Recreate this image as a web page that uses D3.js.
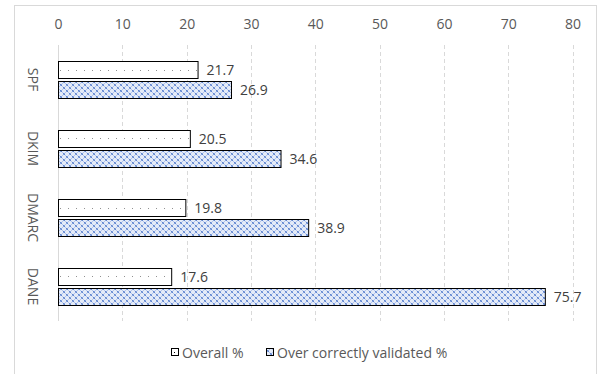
<!DOCTYPE html>
<html>
<head>
<meta charset="utf-8">
<script src="https://cdn.jsdelivr.net/npm/d3@7"></script>
<style>
  html, body { margin: 0; padding: 0; background: #fff; }
  svg { display: block; font-family: "Open Sans", "Noto Sans", sans-serif; }
</style>
</head>
<body>
<svg id="chart" width="598" height="374"></svg>
<script>
// Protocols, top to bottom
const categories = ["SPF", "DKIM", "DMARC", "DANE"];
const seriesNames = ["Overall %", "Over correctly validated %"];
const overall = [21.7, 20.5, 19.8, 17.6];
const overCorrect = [26.9, 34.6, 38.9, 75.7];
const xTicks = [0, 10, 20, 30, 40, 50, 60, 70, 80];

const svg = d3.select("#chart");
const plot = { left: 58, right: 572.5, top: 45, bottom: 321 };
const FS = 14;

const defs = svg.append("defs");

// dotted fill for the "Overall %" bars: one row of sparse dots
const dots = defs.append("pattern")
  .attr("id", "dots").attr("patternUnits", "userSpaceOnUse")
  .attr("width", 8).attr("height", 2);
dots.append("rect").attr("width", 8).attr("height", 2).attr("fill", "#fff");
dots.append("rect").attr("x", 4).attr("y", 0).attr("width", 1).attr("height", 1).attr("fill", "#222");

// light blue diamond lattice for the "Over correctly validated %" bars
const lattice = defs.append("pattern")
  .attr("id", "lattice").attr("patternUnits", "userSpaceOnUse")
  .attr("width", 6).attr("height", 6);
lattice.append("rect").attr("width", 6).attr("height", 6).attr("fill", "#e4ebf8");
[[0,0,"#5f85d0"],[1,0,"#8aa6df"],[0,1,"#8aa6df"],[1,1,"#5f85d0"],
 [3,3,"#5f85d0"],[4,3,"#8aa6df"],[3,4,"#8aa6df"],[4,4,"#5f85d0"],
 [2,2,"#b3c5ec"],[5,5,"#b3c5ec"],[2,5,"#b3c5ec"],[5,2,"#b3c5ec"]].forEach(([x, y, c]) => {
  lattice.append("rect").attr("x", x).attr("y", y).attr("width", 1).attr("height", 1).attr("fill", c);
});

// chart frame
svg.append("rect")
  .attr("x", 14.5).attr("y", 5.5).attr("width", 582).attr("height", 380)
  .attr("fill", "#fff").attr("stroke", "#d9d9d9").attr("stroke-width", 1);

const x = d3.scaleLinear().domain([0, 80]).range([plot.left, plot.right]);
const y = d3.scaleBand().domain(categories).range([plot.top, plot.bottom]).padding(0);
const groupH = 37;
const inner = d3.scaleBand().domain(seriesNames).range([0, groupH]).paddingInner(0.12);

// vertical gridlines
svg.append("g").selectAll("line")
  .data(xTicks.filter(t => t > 0))
  .join("line")
  .attr("x1", d => Math.round(x(d)) + 0.5).attr("x2", d => Math.round(x(d)) + 0.5)
  .attr("y1", plot.top).attr("y2", plot.bottom)
  .attr("stroke", "#d9d9d9").attr("stroke-width", 1).attr("stroke-dasharray", "4,3");

// top axis labels
const axis = d3.axisTop(x).tickValues(xTicks).tickSize(0).tickPadding(0).tickFormat(d3.format("d"));
const gAxis = svg.append("g").attr("transform", "translate(0,29)").call(axis);
gAxis.select(".domain").remove();
gAxis.selectAll("text")
  .attr("font-family", "\"Open Sans\", sans-serif")
  .attr("font-size", FS).attr("fill", "#595959").attr("dy", 0);

// category axis line
svg.append("line")
  .attr("x1", Math.round(x(0)) + 0.5).attr("x2", Math.round(x(0)) + 0.5)
  .attr("y1", plot.top).attr("y2", plot.bottom)
  .attr("stroke", "#d9d9d9").attr("stroke-width", 1);

// category labels, rotated
svg.append("g").selectAll("text")
  .data(categories)
  .join("text")
  .attr("transform", d => `translate(28,${y(d) + y.bandwidth() / 2}) rotate(90)`)
  .attr("text-anchor", "middle")
  .attr("font-size", FS).attr("fill", "#595959")
  .text(d => d);

const rows = categories.map((c, i) => ({ c, vals: [overall[i], overCorrect[i]] }));
const groupTop = d => y(d.c) + (y.bandwidth() - groupH) / 2;

const bars = svg.append("g");
rows.forEach(r => {
  const g0 = groupTop(r);
  r.vals.forEach((v, si) => {
    const yy = Math.round(g0 + inner(seriesNames[si])) + 0.5;
    const hh = Math.round(inner.bandwidth());
    const x0 = Math.round(x(0)) + 0.5;
    const w = x(v) - x(0);
    if (si === 0) {
      bars.append("rect").attr("x", x0).attr("y", yy).attr("width", w).attr("height", hh)
        .attr("fill", "#fff").attr("stroke", "#000").attr("stroke-width", 1);
      bars.append("rect").attr("x", x0 + 1).attr("y", Math.round(yy + hh / 2) - 0.5)
        .attr("width", Math.max(0, w - 2)).attr("height", 1).attr("fill", "url(#dots)");
    } else {
      bars.append("rect").attr("x", x0).attr("y", yy).attr("width", w).attr("height", hh)
        .attr("fill", "url(#lattice)").attr("stroke", "#000").attr("stroke-width", 1);
    }
    bars.append("text")
      .attr("x", x(v) + 9).attr("y", yy + hh / 2)
      .attr("dy", "0.36em")
      .attr("font-size", FS).attr("fill", "#404040")
      .text(d3.format(".1f")(v));
  });
});

// legend
const legend = svg.append("g").attr("transform", "translate(0,353)");
const legendItems = [
  { name: seriesNames[0], x: 171, fill: "#fff", dot: true },
  { name: seriesNames[1], x: 266, fill: "url(#lattice)", dot: false }
];
legendItems.forEach(it => {
  legend.append("rect").attr("x", it.x + 0.5).attr("y", -4.5).attr("width", 7).attr("height", 7)
    .attr("fill", it.fill).attr("stroke", "#000").attr("stroke-width", 1);
  if (it.dot) {
    legend.append("rect").attr("x", it.x + 3).attr("y", -1).attr("width", 1).attr("height", 1).attr("fill", "#000");
  }
  legend.append("text").attr("x", it.x + 11).attr("y", 0).attr("dy", "0.36em")
    .attr("font-size", FS).attr("fill", "#595959").text(it.name);
});
</script>
</body>
</html>
